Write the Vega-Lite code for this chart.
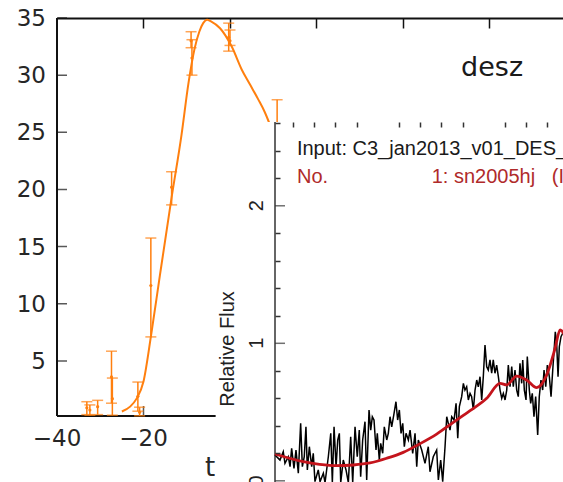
{
  "$schema": "https://vega.github.io/schema/vega-lite/v6.json",
  "width": 506,
  "height": 398,
  "autosize": {"type": "none"},
  "padding": {"left": 57, "top": 18, "right": 0, "bottom": 66},
  "background": "white",
  "config": {"view": {"stroke": null}, "axis": {"grid": false}},
  "datasets": {
    "lc": [
      {"t": -33.1, "flux": 0.9, "lo": 0.3, "hi": 1.43},
      {"t": -32.4, "flux": 0.7, "lo": 0.25, "hi": 1.15},
      {"t": -30.6, "flux": 1.0, "lo": 0.3, "hi": 1.55},
      {"t": -27.4, "flux": 3.6, "lo": 1.3, "hi": 5.85},
      {"t": -27.2, "flux": 1.7, "lo": 0.25, "hi": 3.5},
      {"t": -21.3, "flux": 1.9, "lo": 0.6, "hi": 3.15},
      {"t": -20.9, "flux": 0.5, "lo": 0.2, "hi": 0.95},
      {"t": -18.3, "flux": 11.6, "lo": 7.1, "hi": 15.75},
      {"t": -13.5, "flux": 20.2, "lo": 18.65, "hi": 21.55},
      {"t": -9.0, "flux": 33.0, "lo": 32.4, "hi": 33.8},
      {"t": -8.8, "flux": 31.5, "lo": 30.0, "hi": 33.1},
      {"t": -0.3, "flux": 33.3, "lo": 32.1, "hi": 34.55},
      {"t": 0.0, "flux": 33.0, "lo": 32.6, "hi": 33.95},
      {"t": 10.9, "flux": 25.6, "lo": 23.4, "hi": 27.85}
    ],
    "fit": [
      {"t": -25.0, "flux": 0.57}, {"t": -23.1, "flux": 1.0}, {"t": -21.6, "flux": 1.7},
      {"t": -20.0, "flux": 3.2}, {"t": -18.3, "flux": 7.1}, {"t": -16.2, "flux": 12.5},
      {"t": -13.5, "flux": 19.3}, {"t": -11.2, "flux": 24.8}, {"t": -9.6, "flux": 29.3},
      {"t": -8.2, "flux": 32.3}, {"t": -7.1, "flux": 33.8}, {"t": -6.2, "flux": 34.55},
      {"t": -5.3, "flux": 34.85}, {"t": -4.4, "flux": 34.7}, {"t": -2.3, "flux": 34.1},
      {"t": 0.4, "flux": 32.5}, {"t": 2.7, "flux": 30.5}, {"t": 4.6, "flux": 29.2},
      {"t": 6.5, "flux": 27.9}, {"t": 8.0, "flux": 26.8}, {"t": 9.3, "flux": 25.6},
      {"t": 11.0, "flux": 23.8}, {"t": 14.0, "flux": 21.0}
    ],
    "ylab": [
      {"v": 5, "label": "5"}, {"v": 10, "label": "10"}, {"v": 15, "label": "15"}, {"v": 20, "label": "20"},
      {"v": 25, "label": "25"}, {"v": 30, "label": "30"}, {"v": 35, "label": "35"}
    ],
    "xlab": [
      {"v": -40, "label": "\u221240"}, {"v": -20, "label": "\u221220"}, {"v": 0, "label": "0"},
      {"v": 20, "label": "20"}, {"v": 40, "label": "40"}, {"v": 60, "label": "60"}
    ],
    "flab": [
      {"v": 0, "label": "0"}, {"v": 1, "label": "1"}, {"v": 2, "label": "2"}
    ],
    "spec": [
      {"wl": 3030, "f": 0.188}, {"wl": 3077, "f": 0.151}, {"wl": 3108, "f": 0.212}, {"wl": 3124, "f": 0.127},
      {"wl": 3156, "f": 0.175}, {"wl": 3172, "f": 0.103}, {"wl": 3187, "f": 0.236}, {"wl": 3209, "f": 0.091},
      {"wl": 3228, "f": 0.224}, {"wl": 3250, "f": 0.055}, {"wl": 3272, "f": 0.418}, {"wl": 3288, "f": 0.103},
      {"wl": 3306, "f": 0.175}, {"wl": 3322, "f": 0.393}, {"wl": 3335, "f": 0.079}, {"wl": 3354, "f": 0.248},
      {"wl": 3376, "f": 0.103}, {"wl": 3391, "f": 0.2}, {"wl": 3407, "f": -0.006}, {"wl": 3438, "f": 0.079},
      {"wl": 3455, "f": -0.006}, {"wl": 3486, "f": 0.055}, {"wl": 3502, "f": -0.013}, {"wl": 3533, "f": 0.175},
      {"wl": 3556, "f": 0.345}, {"wl": 3571, "f": -0.013}, {"wl": 3587, "f": 0.393}, {"wl": 3606, "f": 0.103},
      {"wl": 3622, "f": 0.297}, {"wl": 3637, "f": 0.345}, {"wl": 3650, "f": -0.013}, {"wl": 3674, "f": 0.151},
      {"wl": 3700, "f": 0.079}, {"wl": 3722, "f": -0.013}, {"wl": 3744, "f": 0.321}, {"wl": 3763, "f": -0.013},
      {"wl": 3785, "f": 0.393}, {"wl": 3806, "f": 0.175}, {"wl": 3825, "f": 0.369}, {"wl": 3838, "f": 0.03},
      {"wl": 3857, "f": 0.297}, {"wl": 3879, "f": 0.43}, {"wl": 3895, "f": 0.006}, {"wl": 3917, "f": 0.515},
      {"wl": 3933, "f": 0.369}, {"wl": 3948, "f": 0.466}, {"wl": 3964, "f": 0.442}, {"wl": 3983, "f": 0.224},
      {"wl": 3995, "f": 0.345}, {"wl": 4014, "f": 0.151}, {"wl": 4027, "f": 0.273}, {"wl": 4046, "f": 0.2},
      {"wl": 4061, "f": 0.393}, {"wl": 4084, "f": 0.297}, {"wl": 4099, "f": 0.345}, {"wl": 4115, "f": 0.466},
      {"wl": 4131, "f": 0.393}, {"wl": 4153, "f": 0.491}, {"wl": 4171, "f": 0.575}, {"wl": 4187, "f": 0.442},
      {"wl": 4203, "f": 0.515}, {"wl": 4219, "f": 0.345}, {"wl": 4235, "f": 0.418}, {"wl": 4250, "f": 0.248},
      {"wl": 4266, "f": 0.345}, {"wl": 4288, "f": 0.297}, {"wl": 4304, "f": 0.369}, {"wl": 4329, "f": 0.2},
      {"wl": 4351, "f": 0.345}, {"wl": 4367, "f": 0.103}, {"wl": 4382, "f": 0.297}, {"wl": 4414, "f": 0.224},
      {"wl": 4445, "f": 0.127}, {"wl": 4476, "f": 0.248}, {"wl": 4492, "f": 0.066}, {"wl": 4523, "f": 0.175},
      {"wl": 4555, "f": 0.224}, {"wl": 4571, "f": 0.006}, {"wl": 4593, "f": 0.151}, {"wl": 4612, "f": -0.006},
      {"wl": 4634, "f": 0.248}, {"wl": 4650, "f": 0.466}, {"wl": 4665, "f": 0.418}, {"wl": 4681, "f": 0.369},
      {"wl": 4697, "f": 0.466}, {"wl": 4719, "f": 0.442}, {"wl": 4738, "f": 0.563}, {"wl": 4754, "f": 0.309},
      {"wl": 4769, "f": 0.539}, {"wl": 4791, "f": 0.612}, {"wl": 4807, "f": 0.709}, {"wl": 4822, "f": 0.66},
      {"wl": 4838, "f": 0.684}, {"wl": 4854, "f": 0.588}, {"wl": 4870, "f": 0.636}, {"wl": 4885, "f": 0.612},
      {"wl": 4901, "f": 0.515}, {"wl": 4917, "f": 0.66}, {"wl": 4933, "f": 0.733}, {"wl": 4948, "f": 0.684},
      {"wl": 4964, "f": 0.757}, {"wl": 4980, "f": 0.588}, {"wl": 4995, "f": 0.757}, {"wl": 5011, "f": 0.988},
      {"wl": 5027, "f": 0.83}, {"wl": 5042, "f": 0.806}, {"wl": 5058, "f": 0.879}, {"wl": 5074, "f": 0.782},
      {"wl": 5089, "f": 0.879}, {"wl": 5105, "f": 0.782}, {"wl": 5121, "f": 0.842}, {"wl": 5137, "f": 0.757},
      {"wl": 5153, "f": 0.66}, {"wl": 5169, "f": 0.6}, {"wl": 5184, "f": 0.636}, {"wl": 5200, "f": 0.588},
      {"wl": 5216, "f": 0.66}, {"wl": 5231, "f": 0.842}, {"wl": 5247, "f": 0.684}, {"wl": 5263, "f": 0.83},
      {"wl": 5278, "f": 0.684}, {"wl": 5294, "f": 0.806}, {"wl": 5310, "f": 0.66}, {"wl": 5325, "f": 0.612},
      {"wl": 5341, "f": 0.855}, {"wl": 5357, "f": 0.709}, {"wl": 5367, "f": 0.879}, {"wl": 5382, "f": 0.66},
      {"wl": 5398, "f": 0.588}, {"wl": 5410, "f": 0.903}, {"wl": 5429, "f": 0.66}, {"wl": 5442, "f": 0.563},
      {"wl": 5457, "f": 0.636}, {"wl": 5473, "f": 0.466}, {"wl": 5489, "f": 0.612}, {"wl": 5508, "f": 0.333},
      {"wl": 5523, "f": 0.612}, {"wl": 5539, "f": 0.733}, {"wl": 5555, "f": 0.66}, {"wl": 5568, "f": 0.806},
      {"wl": 5584, "f": 0.684}, {"wl": 5599, "f": 0.842}, {"wl": 5618, "f": 0.757}, {"wl": 5634, "f": 0.612},
      {"wl": 5650, "f": 0.806}, {"wl": 5665, "f": 0.975}, {"wl": 5674, "f": 1.084}, {"wl": 5687, "f": 1.0},
      {"wl": 5700, "f": 0.757}, {"wl": 5712, "f": 0.975}, {"wl": 5728, "f": 1.048}, {"wl": 5744, "f": 1.073},
      {"wl": 5775, "f": 1.05}
    ],
    "model": [
      {"wl": 3030, "f": 0.195}, {"wl": 3297, "f": 0.139}, {"wl": 3450, "f": 0.12}, {"wl": 3612, "f": 0.11},
      {"wl": 3769, "f": 0.115}, {"wl": 3926, "f": 0.13}, {"wl": 4084, "f": 0.164}, {"wl": 4240, "f": 0.207},
      {"wl": 4398, "f": 0.27}, {"wl": 4555, "f": 0.34}, {"wl": 4712, "f": 0.425}, {"wl": 4870, "f": 0.51},
      {"wl": 5027, "f": 0.6}, {"wl": 5153, "f": 0.709}, {"wl": 5216, "f": 0.697}, {"wl": 5310, "f": 0.762},
      {"wl": 5404, "f": 0.733}, {"wl": 5499, "f": 0.677}, {"wl": 5593, "f": 0.77}, {"wl": 5672, "f": 0.964},
      {"wl": 5719, "f": 1.097}, {"wl": 5747, "f": 1.08}, {"wl": 5775, "f": 1.04}
    ]
  },
  "layer": [
    {
      "layer": [
        {
          "layer": [
            {
              "data": {"values": [{"edge": "left"}]},
              "mark": {"type": "rule", "color": "#111", "strokeWidth": 2},
              "encoding": {
                "x": {"datum": -40, "type": "quantitative", "scale": {"domain": [-40, 77], "nice": false, "zero": false}, "axis": null},
                "y": {"datum": 0.18, "type": "quantitative", "scale": {"domain": [0.18, 35], "nice": false, "zero": false}, "axis": null},
                "y2": {"datum": 35}
              }
            },
            {
              "data": {"values": [{"edge": "bottom"}]},
              "mark": {"type": "rule", "color": "#111", "strokeWidth": 2},
              "encoding": {
                "x": {"datum": -40, "type": "quantitative", "scale": {"domain": [-40, 77], "nice": false, "zero": false}, "axis": null},
                "x2": {"datum": 77},
                "y": {"datum": 0.18, "type": "quantitative", "scale": {"domain": [0.18, 35], "nice": false, "zero": false}, "axis": null}
              }
            },
            {
              "data": {"name": "ylab"},
              "mark": {"type": "tick", "orient": "horizontal", "color": "#111", "size": 10, "thickness": 1.5},
              "encoding": {
                "x": {"datum": -38.844, "type": "quantitative", "scale": {"domain": [-40, 77], "nice": false, "zero": false}, "axis": null},
                "y": {"field": "v", "type": "quantitative", "scale": {"domain": [0.18, 35], "nice": false, "zero": false}, "axis": null}
              }
            },
            {
              "data": {"name": "xlab"},
              "mark": {"type": "tick", "orient": "vertical", "color": "#111", "size": 10, "thickness": 1.5},
              "encoding": {
                "x": {"field": "v", "type": "quantitative", "scale": {"domain": [-40, 77], "nice": false, "zero": false}, "axis": null},
                "y": {"datum": 0.6175, "type": "quantitative", "scale": {"domain": [0.18, 35], "nice": false, "zero": false}, "axis": null}
              }
            },
            {
              "data": {"name": "fit"},
              "mark": {"type": "line", "color": "#ff7f0e", "strokeWidth": 2, "interpolate": "monotone"},
              "encoding": {
                "x": {"field": "t", "type": "quantitative", "scale": {"domain": [-40, 77], "nice": false, "zero": false}, "axis": null},
                "y": {"field": "flux", "type": "quantitative", "scale": {"domain": [0.18, 35], "nice": false, "zero": false}, "axis": null}
              }
            },
            {
              "data": {"name": "lc"},
              "mark": {"type": "rule", "color": "#ff7f0e", "strokeWidth": 1.5},
              "encoding": {
                "x": {"field": "t", "type": "quantitative", "scale": {"domain": [-40, 77], "nice": false, "zero": false}, "axis": null},
                "y": {"field": "lo", "type": "quantitative", "scale": {"domain": [0.18, 35], "nice": false, "zero": false}, "axis": null},
                "y2": {"field": "hi"}
              }
            },
            {
              "data": {"name": "lc"},
              "mark": {"type": "tick", "orient": "horizontal", "color": "#ff7f0e", "size": 11, "thickness": 1.5},
              "encoding": {
                "x": {"field": "t", "type": "quantitative", "scale": {"domain": [-40, 77], "nice": false, "zero": false}, "axis": null},
                "y": {"field": "lo", "type": "quantitative", "scale": {"domain": [0.18, 35], "nice": false, "zero": false}, "axis": null}
              }
            },
            {
              "data": {"name": "lc"},
              "mark": {"type": "tick", "orient": "horizontal", "color": "#ff7f0e", "size": 11, "thickness": 1.5},
              "encoding": {
                "x": {"field": "t", "type": "quantitative", "scale": {"domain": [-40, 77], "nice": false, "zero": false}, "axis": null},
                "y": {"field": "hi", "type": "quantitative", "scale": {"domain": [0.18, 35], "nice": false, "zero": false}, "axis": null}
              }
            },
            {
              "data": {"name": "ylab"},
              "mark": {"type": "text", "font": "DejaVu Sans", "fontSize": 23, "color": "#262626", "align": "right", "baseline": "alphabetic", "dx": -11, "dy": 8},
              "encoding": {
                "x": {"datum": -40, "type": "quantitative", "scale": {"domain": [-40, 77], "nice": false, "zero": false}, "axis": null},
                "y": {"field": "v", "type": "quantitative", "scale": {"domain": [0.18, 35], "nice": false, "zero": false}, "axis": null},
                "text": {"field": "label"}
              }
            },
            {
              "data": {"name": "xlab"},
              "mark": {"type": "text", "font": "DejaVu Sans", "fontSize": 23, "color": "#262626", "align": "center", "baseline": "alphabetic", "dy": 30},
              "encoding": {
                "x": {"field": "v", "type": "quantitative", "scale": {"domain": [-40, 77], "nice": false, "zero": false}, "axis": null},
                "y": {"datum": 0.18, "type": "quantitative", "scale": {"domain": [0.18, 35], "nice": false, "zero": false}, "axis": null},
                "text": {"field": "label"}
              }
            },
            {
              "data": {"values": [{"name": "t"}]},
              "mark": {"type": "text", "font": "DejaVu Sans", "fontSize": 26, "color": "#262626", "align": "center", "baseline": "alphabetic", "dy": 60},
              "encoding": {
                "x": {"datum": -4.6, "type": "quantitative", "scale": {"domain": [-40, 77], "nice": false, "zero": false}, "axis": null},
                "y": {"datum": 0.18, "type": "quantitative", "scale": {"domain": [0.18, 35], "nice": false, "zero": false}, "axis": null},
                "text": {"field": "name"}
              }
            },
            {
              "data": {"values": [{"band": "desz"}]},
              "mark": {"type": "text", "font": "DejaVu Sans", "fontSize": 27, "color": "#1a1a1a", "align": "center", "baseline": "alphabetic"},
              "encoding": {
                "x": {"datum": 60.6, "type": "quantitative", "scale": {"domain": [-40, 77], "nice": false, "zero": false}, "axis": null},
                "y": {"datum": 29.95, "type": "quantitative", "scale": {"domain": [0.18, 35], "nice": false, "zero": false}, "axis": null},
                "text": {"field": "band"}
              }
            }
          ]
        },
        {
          "data": {"name": "lc"},
          "mark": {"type": "point", "filled": true, "color": "#ff7f0e", "size": 10, "opacity": 1},
          "encoding": {
            "x": {"field": "t", "type": "quantitative",
              "scale": {"domain": [-40, 77], "nice": false, "zero": false},
              "axis": {"orient": "top", "values": [-20, 0, 20, 40, 60], "tickSize": -10, "tickWidth": 1.5,
                "tickColor": "#111", "domainColor": "#111", "domainWidth": 2, "labels": false, "title": null, "zindex": 0}},
            "y": {"field": "flux", "type": "quantitative", "scale": {"domain": [0.18, 35], "nice": false, "zero": false}, "axis": null}
          }
        }
      ],
      "resolve": {"axis": {"x": "independent"}}
    },
    {
      "layer": [
        {
          "layer": [
            {
              "data": {"values": [{"panel": "spectrum"}]},
              "mark": {"type": "rect", "fill": "white", "stroke": null},
              "encoding": {
                "x": {"datum": 2470, "type": "quantitative", "scale": {"domain": [3030, 5760], "range": [218, 507.4], "nice": false, "zero": false}, "axis": null},
                "x2": {"datum": 5800},
                "y": {"datum": 2.61, "type": "quantitative", "scale": {"domain": [-0.69, 2.61], "range": [557.7, 103.9], "nice": false, "zero": false}, "axis": null},
                "y2": {"datum": -0.69}
              }
            },
            {
              "data": {"values": [{"edge": "left"}]},
              "mark": {"type": "rule", "color": "#333", "strokeWidth": 1.5},
              "encoding": {
                "x": {"datum": 3030, "type": "quantitative", "scale": {"domain": [3030, 5760], "range": [218, 507.4], "nice": false, "zero": false}, "axis": null},
                "y": {"datum": -0.69, "type": "quantitative", "scale": {"domain": [-0.69, 2.61], "range": [557.7, 103.9], "nice": false, "zero": false}, "axis": null},
                "y2": {"datum": 2.61}
              }
            },
            {
              "data": {"name": "flab"},
              "mark": {"type": "tick", "orient": "horizontal", "color": "#333", "size": 10, "thickness": 1.5},
              "encoding": {
                "x": {"datum": 3077.2, "type": "quantitative", "scale": {"domain": [3030, 5760], "range": [218, 507.4], "nice": false, "zero": false}, "axis": null},
                "y": {"field": "v", "type": "quantitative", "scale": {"domain": [-0.69, 2.61], "range": [557.7, 103.9], "nice": false, "zero": false}, "axis": null}
              }
            },
            {
              "data": {"name": "spec"},
              "mark": {"type": "line", "color": "#000000", "strokeWidth": 1.5},
              "encoding": {
                "x": {"field": "wl", "type": "quantitative",
                  "scale": {"domain": [3030, 5760], "range": [218, 507.4], "nice": false, "zero": false},
                  "axis": {"orient": "top", "offset": -104, "values": [4000, 5000], "tickSize": -9, "tickWidth": 1.5,
                    "tickColor": "#333", "domainColor": "#333", "domainWidth": 1.5, "labels": false, "title": null, "zindex": 1}},
                "y": {"field": "f", "type": "quantitative",
                  "scale": {"domain": [-0.69, 2.61], "range": [557.7, 103.9], "nice": false, "zero": false}, "axis": null}
              }
            },
            {
              "data": {"name": "flab"},
              "mark": {"type": "text", "font": "Liberation Sans", "fontSize": 20, "color": "#222", "align": "center", "baseline": "alphabetic", "angle": 270},
              "encoding": {
                "x": {"datum": 2917, "type": "quantitative", "scale": {"domain": [3030, 5760], "range": [218, 507.4], "nice": false, "zero": false}, "axis": null},
                "y": {"field": "v", "type": "quantitative", "scale": {"domain": [-0.69, 2.61], "range": [557.7, 103.9], "nice": false, "zero": false}, "axis": null},
                "text": {"field": "label"}
              }
            },
            {
              "data": {"values": [{"name": "Relative Flux"}]},
              "mark": {"type": "text", "font": "Liberation Sans", "fontSize": 20, "color": "#222", "align": "center", "baseline": "alphabetic", "angle": 270},
              "encoding": {
                "x": {"datum": 2643, "type": "quantitative", "scale": {"domain": [3030, 5760], "range": [218, 507.4], "nice": false, "zero": false}, "axis": null},
                "y": {"datum": 0.9585, "type": "quantitative", "scale": {"domain": [-0.69, 2.61], "range": [557.7, 103.9], "nice": false, "zero": false}, "axis": null},
                "text": {"field": "name"}
              }
            },
            {
              "data": {"values": [{"label": "Input: C3_jan2013_v01_DES_"}]},
              "mark": {"type": "text", "font": "Liberation Sans", "fontSize": 20, "color": "#1a1a1a", "align": "left", "baseline": "alphabetic"},
              "encoding": {
                "x": {"datum": 3237, "type": "quantitative", "scale": {"domain": [3030, 5760], "range": [218, 507.4], "nice": false, "zero": false}, "axis": null},
                "y": {"datum": 2.369, "type": "quantitative", "scale": {"domain": [-0.69, 2.61], "range": [557.7, 103.9], "nice": false, "zero": false}, "axis": null},
                "text": {"field": "label"}
              }
            },
            {
              "data": {"values": [{"label": "No.", "wl": 3237}, {"label": "1: sn2005hj\u00a0\u00a0\u00a0(Ia)", "wl": 4508}]},
              "mark": {"type": "text", "font": "Liberation Sans", "fontSize": 20, "color": "#b02a2a", "align": "left", "baseline": "alphabetic"},
              "encoding": {
                "x": {"field": "wl", "type": "quantitative", "scale": {"domain": [3030, 5760], "range": [218, 507.4], "nice": false, "zero": false}, "axis": null},
                "y": {"datum": 2.164, "type": "quantitative", "scale": {"domain": [-0.69, 2.61], "range": [557.7, 103.9], "nice": false, "zero": false}, "axis": null},
                "text": {"field": "label"}
              }
            }
          ]
        },
        {
          "data": {"name": "model"},
          "mark": {"type": "line", "color": "#c4141c", "strokeWidth": 2.8, "interpolate": "monotone"},
          "encoding": {
            "x": {"field": "wl", "type": "quantitative",
              "scale": {"domain": [3030, 5760], "range": [218, 507.4], "nice": false, "zero": false},
              "axis": {"orient": "top", "offset": -104, "values": [3200, 3400, 3600, 3800, 4200, 4400, 4600, 4800, 5200, 5400, 5600],
                "tickSize": -5, "tickWidth": 1.5, "tickColor": "#333", "domain": false, "labels": false, "title": null, "zindex": 1}},
            "y": {"field": "f", "type": "quantitative",
              "scale": {"domain": [-0.69, 2.61], "range": [557.7, 103.9], "nice": false, "zero": false},
              "axis": {"orient": "left", "offset": -218, "values": [0.2, 0.4, 0.6, 0.8, 1.2, 1.4, 1.6, 1.8, 2.2, 2.4, 2.6],
                "tickSize": -5, "tickWidth": 1.5, "tickColor": "#333", "domain": false, "labels": false, "title": null, "zindex": 1}}
          }
        }
      ],
      "resolve": {"axis": {"x": "independent", "y": "independent"}}
    }
  ],
  "resolve": {"scale": {"x": "independent", "y": "independent"}}
}
